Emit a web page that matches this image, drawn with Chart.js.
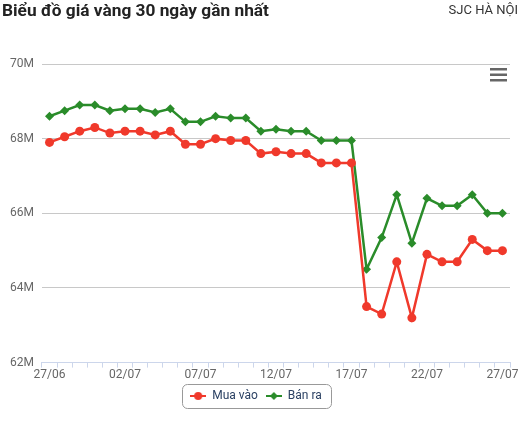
<!DOCTYPE html>
<html>
<head>
<meta charset="utf-8">
<script src="https://cdn.jsdelivr.net/npm/chart.js@4"></script>
<style>
  html, body { margin: 0; padding: 0; background: #fff; }
  .wrap { position: relative; width: 520px; height: 423px; font-family: Roboto, sans-serif; }
  .title { position: absolute; left: 2px; top: 0px; font-size: 17.3px; font-weight: bold; color: #222; }
  .sub { position: absolute; right: 2px; top: 2px; font-size: 13px; color: #333; }
  canvas { position: absolute; left: 0; top: 0; }
</style>
</head>
<body>
<div class="wrap">
  <canvas class="chart" width="520" height="423"></canvas>
  <div class="title">Biểu đồ giá vàng 30 ngày gần nhất</div>
  <div class="sub">SJC HÀ NỘI</div>
</div>
<script>
// Dữ liệu (triệu đồng / lượng)
const labels = [
  "27/06", "28/06", "29/06", "30/06", "01/07", "02/07", "03/07", "04/07",
  "05/07", "06/07", "07/07", "08/07", "09/07", "10/07", "11/07", "12/07",
  "13/07", "14/07", "15/07", "16/07", "17/07", "18/07", "19/07", "20/07",
  "21/07", "22/07", "23/07", "24/07", "25/07", "26/07", "27/07",
];

const muaVao = [
  67.9, 68.05, 68.2, 68.3, 68.15, 68.2, 68.2, 68.1, 68.2, 67.85, 67.85,
  68.0, 67.95, 67.95, 67.6, 67.65, 67.6, 67.6, 67.35, 67.35, 67.35,
  63.5, 63.3, 64.7, 63.2, 64.9, 64.7, 64.7, 65.3, 65.0, 65.0,
];

const banRa = [
  68.6, 68.75, 68.9, 68.9, 68.75, 68.8, 68.8, 68.7, 68.8, 68.45, 68.45,
  68.6, 68.55, 68.55, 68.2, 68.25, 68.2, 68.2, 67.95, 67.95, 67.95,
  64.5, 65.35, 66.5, 65.2, 66.4, 66.2, 66.2, 66.5, 66.0, 66.0,
];

const yTicks = [62, 64, 66, 68, 70];

const RED = "#f0392b";
const GREEN = "#2a8c2a";

// biểu tượng chú thích: đường + điểm
function legendIcon(color, shape) {
  const c = document.createElement("canvas");
  c.width = 16;
  c.height = 10;
  const g = c.getContext("2d");
  g.strokeStyle = color;
  g.fillStyle = color;
  g.lineWidth = 2;
  g.beginPath();
  g.moveTo(0, 5);
  g.lineTo(16, 5);
  g.stroke();
  g.beginPath();
  if (shape === "circle") {
    g.arc(8, 5, 4, 0, Math.PI * 2);
  } else {
    g.moveTo(8, 1);
    g.lineTo(12, 5);
    g.lineTo(8, 9);
    g.lineTo(4, 5);
    g.closePath();
  }
  g.fill();
  return c;
}

const legendBorder = {
  id: "legendBorder",
  afterDraw(chart) {
    const boxes = chart.legend.legendHitBoxes;
    if (!boxes || !boxes.length) return;
    const left = Math.min(...boxes.map((b) => b.left)) - 8;
    const right = Math.max(...boxes.map((b) => b.left + b.width)) + 9;
    const top = boxes[0].top - 6;
    const h = boxes[0].height + 12;
    const ctx = chart.ctx;
    ctx.save();
    ctx.strokeStyle = "#999";
    ctx.lineWidth = 1;
    ctx.beginPath();
    ctx.roundRect(Math.round(left) + 0.5, Math.round(top) + 0.5, Math.round(right - left), Math.round(h), 5);
    ctx.stroke();
    ctx.restore();
  },
};

const menuIcon = {
  id: "menuIcon",
  afterDraw(chart) {
    const ctx = chart.ctx;
    const x = chart.chartArea.right - 20;
    const y = chart.chartArea.top + 4;
    ctx.save();
    ctx.fillStyle = "#666";
    for (let i = 0; i < 3; i++) {
      ctx.fillRect(x, y + i * 5.5, 17, 2.5);
    }
    ctx.restore();
  },
};

const chart = document.querySelector(".chart").getContext("2d");

const data = {
  labels,
  datasets: [
    {
      label: "Mua vào",
      data: muaVao,
      borderColor: RED,
      backgroundColor: RED,
      pointStyle: "circle",
      pointRadius: 4.5,
      pointHoverRadius: 5,
      pointBorderWidth: 0,
      borderWidth: 2.5,
    },
    {
      label: "Bán ra",
      data: banRa,
      borderColor: GREEN,
      backgroundColor: GREEN,
      pointStyle: "rectRot",
      pointRadius: 4.5,
      pointHoverRadius: 5,
      pointBorderWidth: 0,
      borderWidth: 2.5,
    },
  ],
};

const icons = [legendIcon(RED, "circle"), legendIcon(GREEN, "diamond")];

const config = {
  type: "line",
  data,
  plugins: [legendBorder, menuIcon],
  options: {
    responsive: false,
    animation: false,
    tension: 0,
    layout: {
      padding: { top: 64, left: 2, right: 10, bottom: 11 },
    },
    plugins: {
      tooltip: { enabled: false },
      legend: {
        display: true,
        position: "bottom",
        labels: {
          usePointStyle: true,
          pointStyleWidth: 16,
          padding: 8,
          color: "#2b4163",
          font: { family: "Roboto", size: 12 },
          generateLabels(ch) {
            return ch.data.datasets.map((ds, i) => ({
              text: ds.label,
              pointStyle: icons[i],
              fillStyle: ds.borderColor,
              strokeStyle: ds.borderColor,
              fontColor: "#2b4163",
              lineWidth: 0,
              hidden: false,
              datasetIndex: i,
            }));
          },
        },
      },
    },
    scales: {
      x: {
        type: "category",
        offset: true,
        border: { display: true, color: "#ccd6eb", width: 1 },
        grid: {
          offset: true,
          drawOnChartArea: false,
          drawTicks: true,
          tickLength: 5,
          color: "#ccd6eb",
        },
        ticks: {
          autoSkip: false,
          maxRotation: 0,
          padding: 0,
          color: "#666",
          font: { family: "Roboto", size: 12 },
          callback: (v, i) => (i % 5 === 0 ? labels[i] : ""),
        },
      },
      y: {
        min: 62,
        max: 70,
        border: { display: false },
        grid: { color: "#c8c8c8", drawTicks: false },
        afterBuildTicks: (axis) => {
          axis.ticks = yTicks.map((v) => ({ value: v }));
        },
        ticks: {
          padding: 8,
          color: "#666",
          font: { family: "Roboto", size: 12 },
          callback: (v) => v + "M",
        },
      },
    },
  },
};

const myChart = new Chart(chart, config);
</script>
</body>
</html>
